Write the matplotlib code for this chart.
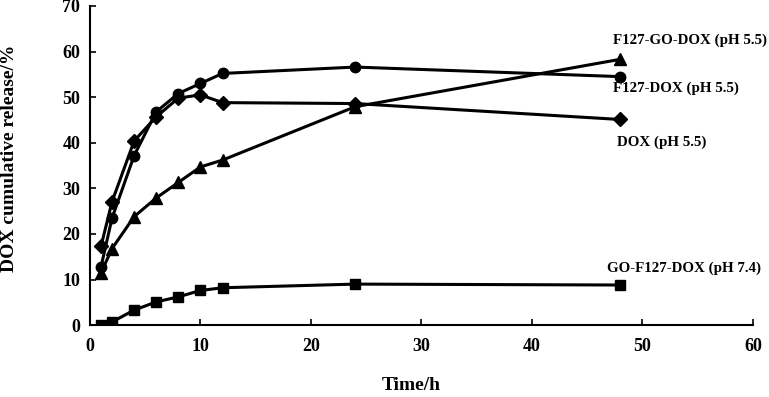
import matplotlib
matplotlib.use('Agg')
import matplotlib.pyplot as plt

plt.rcParams['font.family'] = 'Liberation Serif'
plt.rcParams['font.weight'] = 'bold'

time_h = [1, 2, 4, 6, 8, 10, 12, 24, 48]
f127_dox = [12.8, 23.5, 37.2, 46.8, 50.8, 53.0, 55.2, 56.6, 54.5]
dox = [17.3, 27.1, 40.4, 45.7, 49.8, 50.5, 48.8, 48.6, 45.1]
f127_go_dox = [11.5, 16.8, 23.8, 27.9, 31.3, 34.7, 36.2, 47.9, 58.3]
go_f127_dox = [0.0, 0.7, 3.3, 5.1, 6.2, 7.6, 8.2, 9.0, 8.8]

fig = plt.figure(figsize=(7.69, 3.97), dpi=100)
ax = fig.add_axes([0.117, 0.181, 0.862, 0.804])

ax.plot(time_h, f127_dox, color='black', marker='o', markersize=7.5, linewidth=2.2)
ax.plot(time_h, dox, color='black', marker='D', markersize=7, linewidth=2.2)
ax.plot(time_h, f127_go_dox, color='black', marker='^', markersize=8, linewidth=2.2)
ax.plot(time_h, go_f127_dox, color='black', marker='s', markersize=7, linewidth=2.2)

ax.text(47.3, 62.5, 'F127-GO-DOX (pH 5.5)', fontsize=10.8, fontweight='bold', va='center')
ax.text(47.3, 52.0, 'F127-DOX (pH 5.5)', fontsize=10.8, fontweight='bold', va='center')
ax.text(47.7, 40.2, 'DOX (pH 5.5)', fontsize=10.8, fontweight='bold', va='center')
ax.text(46.8, 12.5, 'GO-F127-DOX (pH 7.4)', fontsize=10.8, fontweight='bold', va='center')

ax.set_xlim(0, 60)
ax.set_ylim(0, 70)
ax.set_xticks(range(0, 61, 10))
ax.set_yticks(range(0, 71, 10))
ax.tick_params(direction='in', length=4, width=1.2, labelsize=13)
ax.tick_params(axis='y', pad=7)
ax.tick_params(axis='x', pad=9)
ax.spines['top'].set_visible(False)
ax.spines['right'].set_visible(False)
ax.spines['left'].set_linewidth(1.5)
ax.spines['bottom'].set_linewidth(1.5)

fig.text(0.535, 0.03, 'Time/h', fontsize=14, fontweight='bold', ha='center', va='center')
fig.text(0.013, 0.6, 'DOX cumulative release/%', fontsize=14, fontweight='bold',
         ha='center', va='center', rotation=90)

fig.savefig('out.png', dpi=100)
